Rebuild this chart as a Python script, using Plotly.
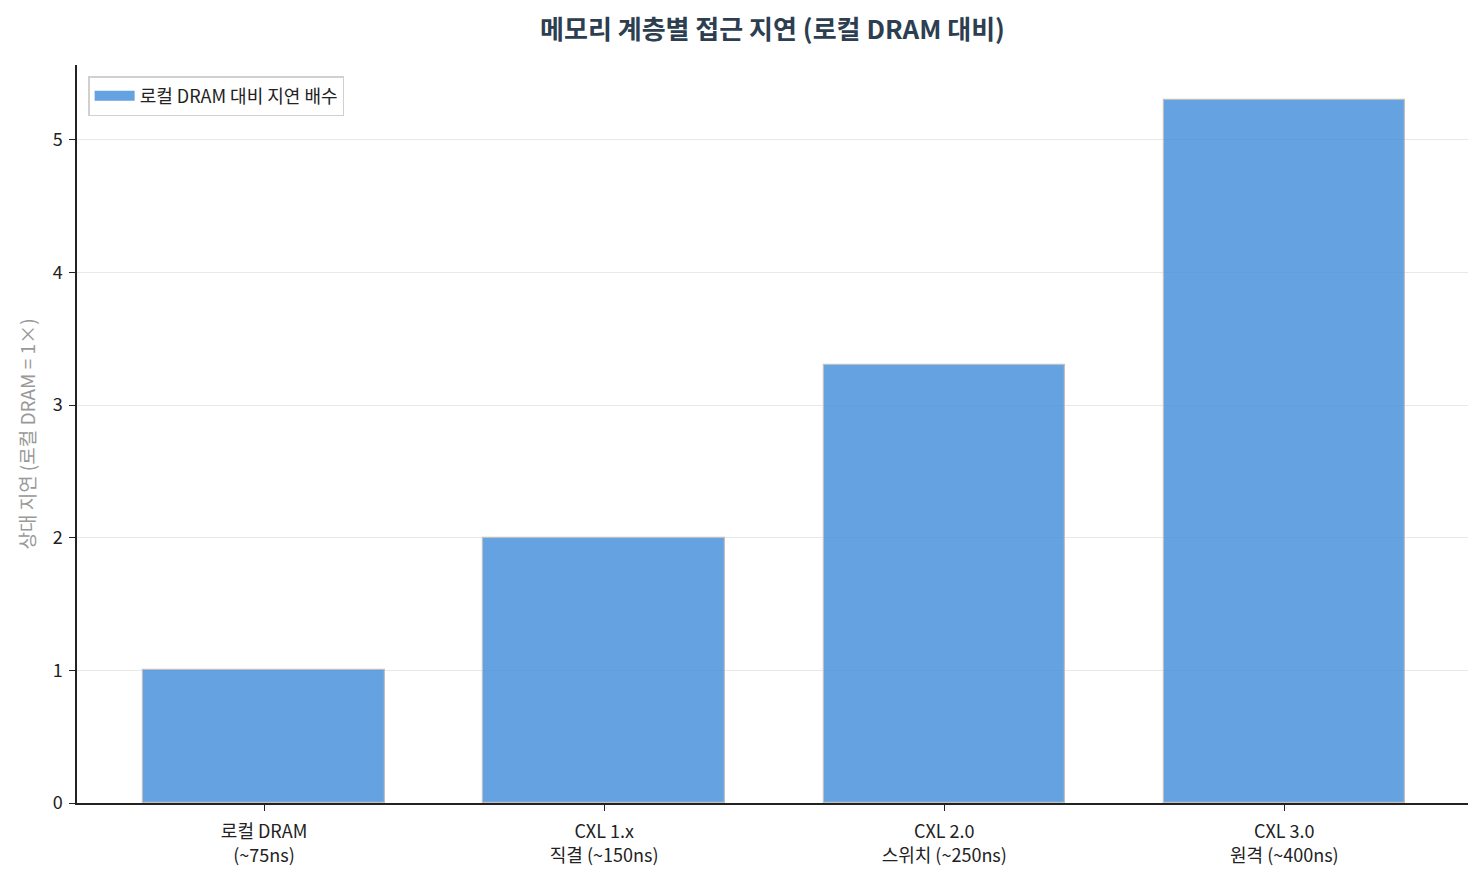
import plotly.graph_objects as go

categories = ["로컬 DRAM<br>(~75ns)", "CXL 1.x<br>직결 (~150ns)",
              "CXL 2.0<br>스위치 (~250ns)", "CXL 3.0<br>원격 (~400ns)"]
positions = [0, 1, 2, 3]
latency_ratio = [1.0, 2.0, 3.3, 5.3]
series_name = "로컬 DRAM 대비 지연 배수"

bar_color = "rgba(61,139,217,0.8)"
font_family = "Noto Sans CJK KR, Noto Sans, sans-serif"

fig = go.Figure()
fig.add_trace(go.Bar(
    x=positions, y=latency_ratio, width=0.71,
    name=series_name, showlegend=False,
    marker=dict(color=bar_color, line=dict(color="#c0c0c0", width=1.2)),
))
# legend entry with a wide swatch like the original
fig.add_trace(go.Scatter(
    x=[None], y=[None], mode="lines", name=series_name,
    line=dict(color=bar_color, width=14),
))

# page has an 8px body margin, so the figure is sized to fit the window
fig.update_layout(
    width=1468, height=868,
    paper_bgcolor="white", plot_bgcolor="white",
    margin=dict(l=69, r=8, t=57, b=73),
    font=dict(family=font_family, size=18, color="#222"),
    title=dict(text="<b>메모리 계층별 접근 지연 (로컬 DRAM 대비)</b>",
               x=0.5, xref="paper", xanchor="center", y=0.975, yanchor="middle",
               font=dict(size=26, color="#2c3e50")),
    legend=dict(x=0.008, y=0.985, xanchor="left", yanchor="top",
                bordercolor="#d0d0d0", borderwidth=1.5, bgcolor="white",
                font=dict(size=18), itemwidth=40),
    bargap=0,
)
fig.update_xaxes(
    range=[-0.55, 3.54], tickvals=positions, ticktext=categories,
    showline=True, linecolor="#222", linewidth=1.5,
    ticks="outside", ticklen=6, tickcolor="#222", ticklabelstandoff=6,
    showgrid=False, zeroline=False, tickfont=dict(size=18),
)
fig.update_yaxes(
    range=[0, 5.565], dtick=1,
    showline=True, linecolor="#222", linewidth=1.5,
    ticks="outside", ticklen=6, tickcolor="#222", ticklabelstandoff=3,
    showgrid=True, gridcolor="#e8e8e8", gridwidth=1, zeroline=False,
    tickfont=dict(size=18),
    title=dict(text="상대 지연 (로컬 DRAM = 1×)", font=dict(size=19, color="#999"), standoff=12),
)

fig.write_html("out.html")
